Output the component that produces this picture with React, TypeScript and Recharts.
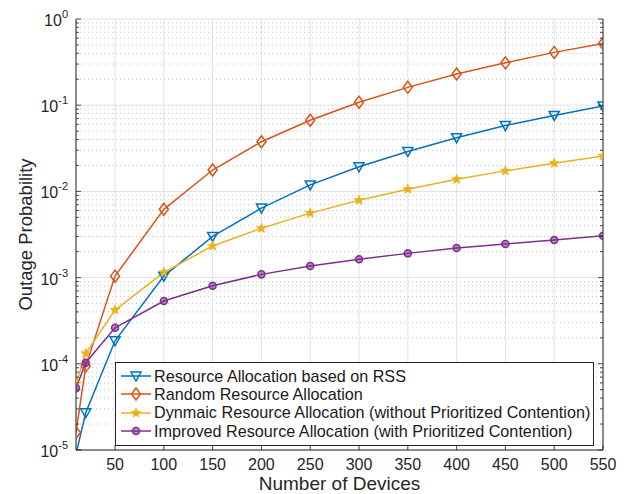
import React from 'react';
import { LineChart, Line, XAxis, YAxis, CartesianGrid, Legend } from 'recharts';

const devices = [10, 20, 50, 100, 150, 200, 250, 300, 350, 400, 450, 500, 550];
const rssAlloc = [9e-6, 2.7e-5, 1.85e-4, 1.04e-3, 3.0e-3, 6.4e-3, 0.0119, 0.0193, 0.029, 0.042, 0.058, 0.076, 0.098];
const randomAlloc = [1.6e-5, 9.4e-5, 1.04e-3, 6.2e-3, 0.0177, 0.0377, 0.067, 0.108, 0.161, 0.23, 0.31, 0.41, 0.52];
const dynamicAlloc = [5.9e-5, 1.32e-4, 4.2e-4, 1.15e-3, 2.33e-3, 3.73e-3, 5.6e-3, 7.9e-3, 0.0106, 0.0138, 0.0173, 0.0212, 0.0258];
const improvedAlloc = [5.2e-5, 1.03e-4, 2.62e-4, 5.35e-4, 8.05e-4, 1.09e-3, 1.36e-3, 1.63e-3, 1.91e-3, 2.2e-3, 2.45e-3, 2.73e-3, 3.06e-3];

const xTicks = [50, 100, 150, 200, 250, 300, 350, 400, 450, 500, 550];
const decades = [1e-5, 1e-4, 1e-3, 1e-2, 1e-1, 1];
const decadeExp = ['-5', '-4', '-3', '-2', '-1', '0'];
// minor grid/tick positions 2..9 in each decade
const minors = decades.slice(0, -1).flatMap((d) => [2, 3, 4, 5, 6, 7, 8, 9].map((m) => m * d));

const data = devices.map((n, i) => ({
  n,
  rss: rssAlloc[i],
  rnd: randomAlloc[i],
  dyn: dynamicAlloc[i],
  imp: improvedAlloc[i],
}));

const FONT = '"Liberation Sans", Arial, Helvetica, sans-serif';
const AXIS = '#262626';

const series = [
  { key: 'rss', name: 'Resource Allocation based on RSS', color: '#0072BD', marker: 'tri' },
  { key: 'rnd', name: 'Random Resource Allocation', color: '#D95319', marker: 'diamond' },
  { key: 'dyn', name: 'Dynmaic Resource Allocation (without Prioritized Contention)', color: '#EDB120', marker: 'star' },
  { key: 'imp', name: 'Improved Resource Allocation (with Prioritized Contention)', color: '#7E2F8E', marker: 'circle' },
];

function starPoints(cx: number, cy: number, R: number, r: number) {
  const pts: string[] = [];
  for (let i = 0; i < 10; i++) {
    const a = -Math.PI / 2 + (i * Math.PI) / 5;
    const rad = i % 2 === 0 ? R : r;
    pts.push(`${cx + rad * Math.cos(a)},${cy + rad * Math.sin(a)}`);
  }
  return pts.join(' ');
}

function Marker({ cx, cy, kind, color }: { cx: number; cy: number; kind: string; color: string }) {
  if (cx == null || cy == null || isNaN(cx) || isNaN(cy)) return null;
  if (kind === 'tri') {
    return (
      <polygon
        points={`${cx - 5},${cy - 4} ${cx + 5},${cy - 4} ${cx},${cy + 5}`}
        fill="none"
        stroke={color}
        strokeWidth={1.5}
      />
    );
  }
  if (kind === 'diamond') {
    return (
      <polygon
        points={`${cx},${cy - 6} ${cx + 4.5},${cy} ${cx},${cy + 6} ${cx - 4.5},${cy}`}
        fill="none"
        stroke={color}
        strokeWidth={1.5}
      />
    );
  }
  if (kind === 'star') {
    return <polygon points={starPoints(cx, cy, 5, 2.2)} fill={color} stroke={color} strokeWidth={0.8} />;
  }
  return <circle cx={cx} cy={cy} r={3.5} fill={color} fillOpacity={0.55} stroke={color} strokeWidth={1.5} />;
}

const LeftTick = ({ x, y, payload }: any) => {
  const idx = decades.indexOf(payload.value);
  const major = idx >= 0;
  return (
    <g>
      <line x1={x} x2={x + (major ? 5 : 3)} y1={y} y2={y} stroke={AXIS} strokeWidth={0.8} />
      {major && (
        <text x={x - 8} y={y + 7} textAnchor="end" fontSize={16} fill="#262626" fontFamily={FONT}>
          10
          <tspan dy={-8} fontSize={11}>
            {decadeExp[idx]}
          </tspan>
        </text>
      )}
    </g>
  );
};

const RightTick = ({ x, y, payload }: any) => {
  const major = decades.indexOf(payload.value) >= 0;
  return <line x1={x - (major ? 5 : 3)} x2={x} y1={y} y2={y} stroke={AXIS} strokeWidth={0.8} />;
};

const BottomTick = ({ x, y, payload }: any) => (
  <g>
    <line x1={x} x2={x} y1={y} y2={y - 5} stroke={AXIS} strokeWidth={0.8} />
    <text x={x} y={y + 20} textAnchor="middle" fontSize={16} fill="#262626" fontFamily={FONT}>
      {payload.value}
    </text>
  </g>
);

const TopTick = ({ x, y }: any) => <line x1={x} x2={x} y1={y} y2={y + 5} stroke={AXIS} strokeWidth={0.8} />;

const LegendBox = () => (
  <div
    style={{
      border: `1px solid ${AXIS}`,
      background: '#fff',
      padding: '4px 0 5px 4px',
      fontFamily: FONT,
      fontSize: 16.2,
      color: '#1a1a1a',
      boxSizing: 'border-box',
      width: 479,
    }}
  >
    {series.map((s) => (
      <div key={s.key} style={{ display: 'flex', alignItems: 'center', height: 18.3, whiteSpace: 'nowrap' }}>
        <svg width={34} height={16} style={{ flex: 'none' }}>
          <line x1={1} x2={31} y1={8} y2={8} stroke={s.color} strokeWidth={1.5} />
          <Marker cx={16} cy={8} kind={s.marker} color={s.color} />
        </svg>
        <span>{s.name}</span>
      </div>
    ))}
  </div>
);

export default function App() {
  return (
    <div style={{ position: 'absolute', left: 0, top: 0, background: '#fff' }}>
      <LineChart width={630} height={494} data={data} margin={{ top: 19, right: 0, left: 0, bottom: 0 }}>
        <CartesianGrid
          horizontal={true}
          vertical={false}
          horizontalValues={minors}
          stroke="#c4c4c4"
          strokeDasharray="1 3"
        />
        <CartesianGrid horizontal={true} vertical={true} horizontalValues={decades} stroke="#e2e2e2" />
        <XAxis
          dataKey="n"
          type="number"
          domain={[10, 550]}
          ticks={xTicks}
          allowDataOverflow
          height={44}
          tickSize={0}
          tickMargin={0}
          tick={<BottomTick />}
          axisLine={{ stroke: AXIS }}
          interval={0}
          label={{
            content: () => (
              <text x={339.5} y={490} textAnchor="middle" fontSize={19} fill="#262626" fontFamily={FONT}>
                Number of Devices
              </text>
            ),
          }}
        />
        <XAxis
          xAxisId="top"
          orientation="top"
          type="number"
          domain={[10, 550]}
          ticks={xTicks}
          allowDataOverflow
          height={0}
          tickSize={0}
          tickMargin={0}
          tick={<TopTick />}
          axisLine={{ stroke: AXIS }}
          interval={0}
        />
        <YAxis
          type="number"
          scale="log"
          domain={[1e-5, 1]}
          ticks={[...decades, ...minors]}
          allowDataOverflow
          width={76}
          tickSize={0}
          tickMargin={0}
          tick={<LeftTick />}
          axisLine={{ stroke: AXIS }}
          interval={0}
          label={{
            content: () => (
              <text
                x={25}
                y={234.5}
                transform="rotate(-90 25 234.5)"
                textAnchor="middle"
                dominantBaseline="central"
                fontSize={18.5}
                fill="#262626"
                fontFamily={FONT}
              >
                Outage Probability
              </text>
            ),
          }}
        />
        <YAxis
          yAxisId="right"
          orientation="right"
          type="number"
          scale="log"
          domain={[1e-5, 1]}
          ticks={[...decades, ...minors]}
          allowDataOverflow
          width={27}
          tickSize={0}
          tickMargin={0}
          tick={<RightTick />}
          axisLine={{ stroke: AXIS }}
          interval={0}
        />
        {series.map((s) => (
          <Line
            key={s.key}
            dataKey={s.key}
            name={s.name}
            stroke={s.color}
            strokeWidth={1.5}
            isAnimationActive={false}
            dot={(p: any) => <Marker key={`${s.key}-${p.index}`} cx={p.cx} cy={p.cy} kind={s.marker} color={s.color} />}
            activeDot={false}
          />
        ))}
        <Legend
          layout="horizontal"
          verticalAlign="middle"
          align="center"
          wrapperStyle={{ position: 'absolute', left: 115, top: 362, width: 479 }}
          content={() => <LegendBox />}
        />
      </LineChart>
    </div>
  );
}
